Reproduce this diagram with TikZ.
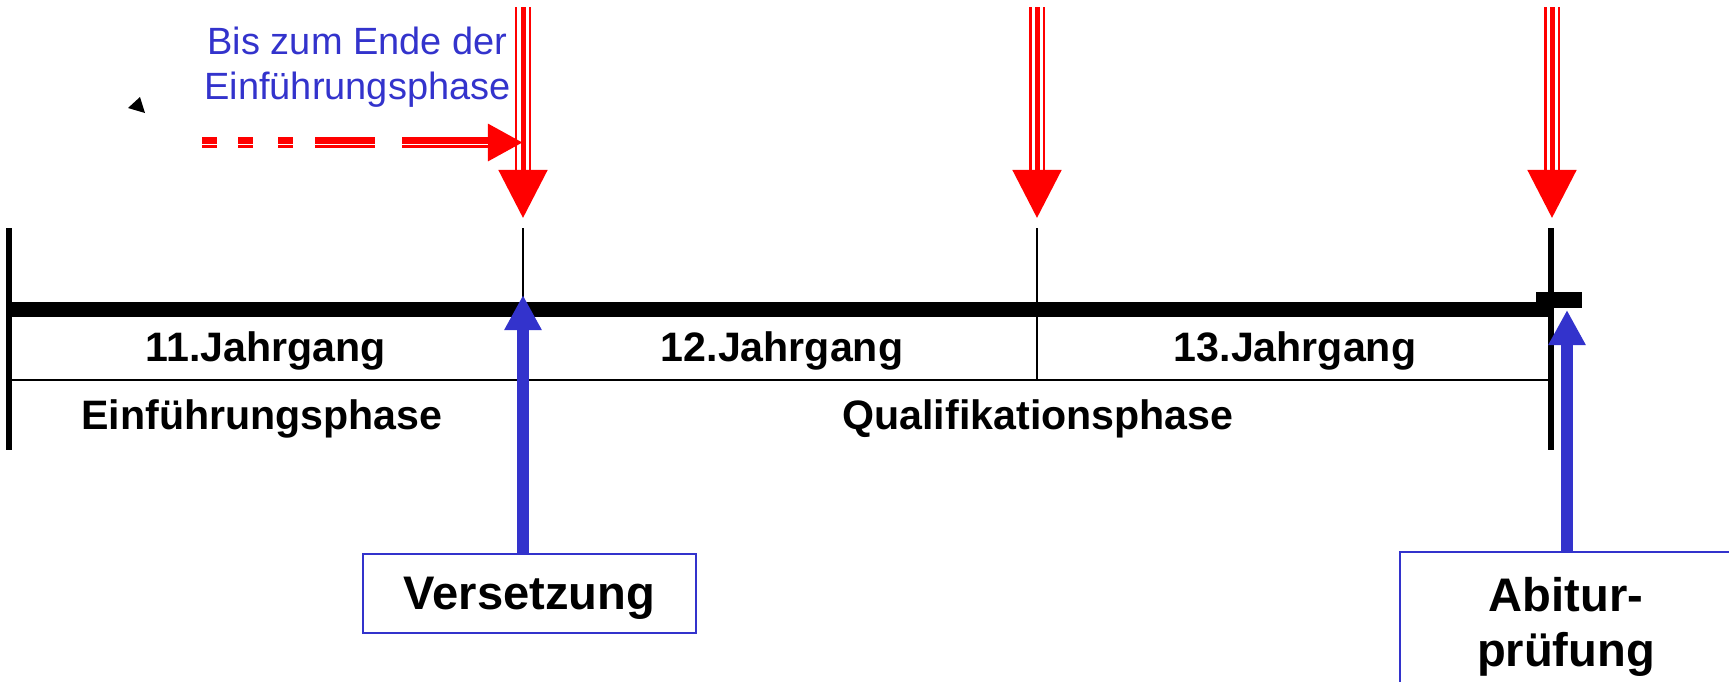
\documentclass[tikz,border=0pt]{standalone}
\usepackage{fontspec}
\setmainfont{Liberation Sans}
\usepackage{xcolor}
\usetikzlibrary{arrows.meta}
\definecolor{phaseblue}{RGB}{51,51,204}
\definecolor{markred}{RGB}{255,0,0}

\begin{document}
\begin{tikzpicture}[
        x = 0.01cm,
        y = -0.01cm,
        inner sep = 0pt,
        year/.style = {font=\bfseries\fontsize{11.7}{14}\selectfont, anchor=base},
        event/.style = {draw=phaseblue, line width=0.5pt, align=center,
            font=\bfseries\fontsize{13.4}{15.9}\selectfont},
        rail/.style = {draw=markred, line width=0.023cm, double=white, double distance=0.11cm},
        deadline/.style = {draw=markred, line width=0.05cm,
            -{Triangle[length=0.48cm, width=0.48cm]}},
        pass/.style = {draw=phaseblue, line width=0.12cm,
            -{Triangle[length=0.35cm, width=0.35cm]}},
        hintline/.style = {draw=markred, line width=0.115cm,
            dash pattern=on 0.15cm off 0.21cm on 0.15cm off 0.25cm on 0.15cm off 0.22cm on 0.6cm off 0.27cm on 3cm,
            -{Triangle[length=0.35cm, width=0.35cm]},
            postaction={draw=white, -, line width=0.013cm, shorten >=0.35cm,
                transform canvas={yshift=-0.022cm}}}]
        \useasboundingbox (0,0) rectangle (1729,681);
        \clip (0,0) rectangle (1729,681);

        % POINTS
        \coordinate (lefttop) at (9,228);
        \coordinate (leftbot) at (9,450);
        \coordinate (righttop) at (1551,228);
        \coordinate (rightbot) at (1551,450);
        \coordinate (start) at (9,309.5);
        \coordinate (ende) at (1553,309.5);
        \coordinate (m1top) at (523,228);
        \coordinate (m1) at (523,309.5);
        \coordinate (m2top) at (1037,228);
        \coordinate (m2bot) at (1037,380);
        \coordinate (sepleft) at (9,380);
        \coordinate (sepright) at (1551,380);

        % TIMELINE
        \draw[line width=0.06cm] (lefttop) -- (leftbot);
        \draw[line width=0.06cm] (righttop) -- (rightbot);
        \draw[line width=0.15cm] (start) -- (ende);
        \fill (1536,292) rectangle (1582,308);
        \draw[line width=0.025cm] (m1top) -- (m1);
        \draw[line width=0.025cm] (m2top) -- (m2bot);
        \draw[line width=0.015cm] (sepleft) -- (sepright);

        % NODES
        % years
        \node[year] (j11) at (266,361) {11.Jahrgang};
        \node[year] (j12) at (782,361) {12.Jahrgang};
        \node[year] (j13) at (1295,361) {13.Jahrgang};
        % phases
        \node[year] (einf) at (262,429) {Einführungsphase};
        \node[year] (quali) at (1038,429) {Qualifikationsphase};
        % boxes
        \node[event, text depth=0pt, minimum width=3.33cm, minimum height=0.79cm] (vers) at (529.5,593.5) {Versetzung};
        \node[event, minimum width=3.32cm, minimum height=1.5cm, anchor=north west] (abi) at (1399,551) {Abitur-\\prüfung};
        % hint
        \node[align=center, text=phaseblue, font=\fontsize{10.8}{12.8}\selectfont] (hint) at (357.5,67.5) {Bis zum Ende der\\Einführungsphase};

        % ARROWS
        \foreach \i/\x in {1/523, 2/1037, 3/1552} {
            \coordinate (rtop\i) at (\x,7);
            \coordinate (rbase\i) at (\x,172);
            \coordinate (rtip\i) at (\x,218);
            \draw[rail] (rtop\i) -- (rbase\i);
            \draw[deadline] (rtop\i) -- (rtip\i);
        }
        \coordinate (dstart) at (202,142.5);
        \draw[hintline] (dstart) -- (dstart -| rtop1);
        \fill (128,108) -- (140,97) -- (145,113) -- cycle;

        \coordinate (vtip) at (523,295);
        \coordinate (atip) at (1567,310);
        \draw[pass] (vers.north -| vtip) -- (vtip);
        \draw[pass, line width=0.115cm] (abi.north -| atip) -- (atip);
    \end{tikzpicture}
\end{document}
